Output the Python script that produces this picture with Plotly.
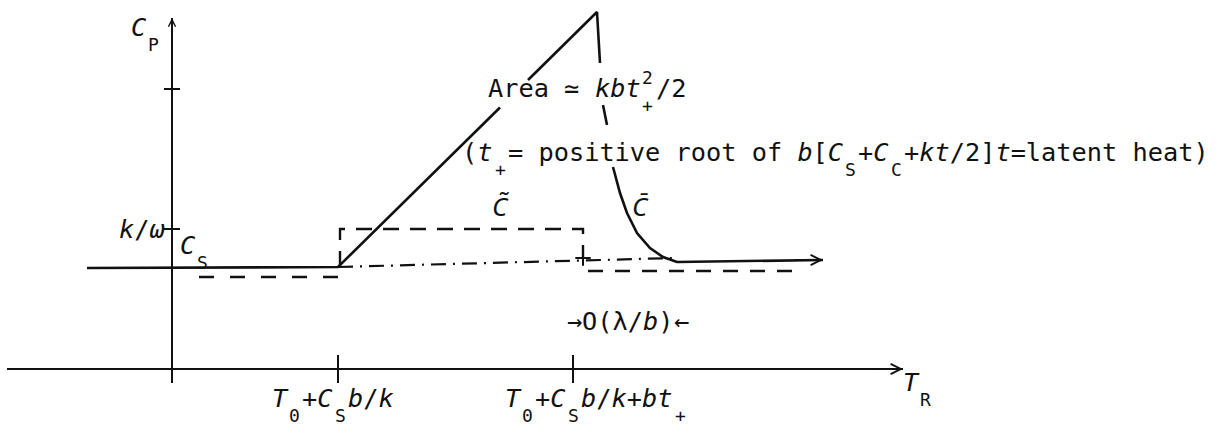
import plotly.graph_objects as go

# ---------------- data (schematic units; origin = crossing of the axes) ----------------
# Apparent heat capacity C_P plotted against reference temperature T_R
T_CURVE = [-0.85, 1.66, 3.28, None, 3.56, 4.25, 4.28, None, 4.31, 4.35, None,
           4.41, 4.48, 4.55, 4.65, 4.78, 4.91, 5.05, 6.51]
C_CURVE = [1.01, 1.02, 2.615, None, 2.89, 3.57, 3.06, None, 2.64, 2.44, None,
           2.02, 1.76, 1.56, 1.36, 1.21, 1.12, 1.07, 1.09]
# C-tilde (dashed box)
T_TILDE = [1.68, 1.68, 4.11, 4.11]
C_TILDE = [1.02, 1.40, 1.40, 1.11]
# dash-dot line
T_DASHDOT = [1.66, 5.03]
C_DASHDOT = [1.02, 1.11]
# lower dashed lines
T_LOW_LEFT = [0.27, 1.66]
C_LOW_LEFT = [0.92, 0.92]
T_LOW_RIGHT = [4.16, 6.21]
C_LOW_RIGHT = [0.98, 0.98]
# axes extents
T_AXIS = [-1.65, 7.31]
C_AXIS = [-0.14, 3.51]
# tick positions
T_TICKS = [1.66, 4.01]
C_TICKS = [1.40, 2.80]
CROSS_T = [4.11]
CROSS_C = [1.11]

# ---------------- text (typewriter segments) ----------------
LBL_ROOT = [("(", "r"), ("t", "i"), ("+", "sub"), ("= positive root of ", "r"),
            ("b", "i"), ("[", "r"), ("C", "i"), ("S", "sub"), ("+", "r"),
            ("C", "i"), ("C", "sub"), ("+", "r"), ("kt", "i"), ("/2]", "r"),
            ("t", "i"), ("=latent heat)", "r")]
LBL_AREA = [("Area ", "r"), ("\u2243", "sym"), (" ", "r"), ("kbt", "i"),
            ("2", "sup0"), ("+", "sub"), ("/2", "r")]
LBL_CP = [("C", "i"), ("P", "sub")]
LBL_KW = [("k", "i"), ("/", "r"), ("\u03c9", "i")]
LBL_CS = [("C", "i"), ("S", "sub")]
LBL_ORDER = [("\u2192", "sym"), ("O(\u03bb/", "r"), ("b", "i"), (")", "r"), ("\u2190", "sym")]
LBL_T1 = [("T", "i"), ("0", "sub"), ("+", "r"), ("C", "i"), ("S", "sub"),
          ("b", "i"), ("/", "r"), ("k", "i")]
LBL_T2 = LBL_T1 + [("+", "r"), ("bt", "i"), ("+", "sub")]
LBL_TR = [("T", "i"), ("R", "sub")]
LBL_CTILDE = "C\u0303"
LBL_CBAR = "C\u0304"

# ---------------- styling ----------------
W, H = 1218, 425
X_RANGE = [-1.72, 10.46]
Y_RANGE = [-0.56, 3.69]
PX_PER_UNIT = W / (X_RANGE[1] - X_RANGE[0])
INK = "#111111"
FONT = "DejaVu Sans Mono, Liberation Mono, monospace"
ACCENT_FONT = "Noto Sans, DejaVu Sans, sans-serif"
FS = 25.3
SUB_FS = 18
PITCH = 0.60205 * FS
SUB_SHIFT = 17
SUP_SHIFT = 11
NBSP = "\u00a0"

fig = go.Figure()


def line(x, y, width=2.5, dash="solid"):
    fig.add_trace(go.Scatter(x=x, y=y, mode="lines", connectgaps=False,
                             line=dict(color=INK, width=width, dash=dash),
                             hoverinfo="skip", showlegend=False))


# axes
line(T_AXIS, [0, 0], width=2)
line([0, 0], C_AXIS, width=2)
for t in T_TICKS:
    line([t, t], [-0.14, 0.14], width=2)
for c in C_TICKS:
    line([-0.08, 0.08], [c, c], width=2)

# curves
line(T_CURVE, C_CURVE, width=2.6)
line(T_TILDE, C_TILDE, width=2.4, dash="16px,11px")
line(T_DASHDOT, C_DASHDOT, width=2.2, dash="15px,7px,2px,7px")
line(T_LOW_LEFT, C_LOW_LEFT, width=2.4, dash="15px,16px")
line(T_LOW_RIGHT, C_LOW_RIGHT, width=2.4, dash="15px,12px")
fig.add_trace(go.Scatter(x=CROSS_T, y=CROSS_C, mode="markers",
                         marker=dict(symbol="cross-thin", size=11,
                                     line=dict(width=2, color=INK)),
                         hoverinfo="skip", showlegend=False))


def arrow(x, y, ax, ay, size=1.0):
    fig.add_annotation(x=x, y=y, ax=ax, ay=ay, xref="x", yref="y",
                       axref="x", ayref="y", text="", showarrow=True,
                       arrowhead=5, arrowsize=size, arrowwidth=2,
                       arrowcolor=INK, standoff=0)


arrow(T_AXIS[1], 0, T_AXIS[1] - 0.3, 0)
arrow(0, C_AXIS[1], 0, C_AXIS[1] - 0.3, size=0.7)
arrow(T_CURVE[-1], C_CURVE[-1], T_CURVE[-1] - 0.3, C_CURVE[-1])


def note(x, y, text, size=FS, xanchor="left", yshift=0, family=FONT):
    fig.add_annotation(x=x, y=y, xref="x", yref="y", text=text,
                       showarrow=False, xanchor=xanchor, yanchor="middle",
                       yshift=yshift, borderpad=0, borderwidth=0,
                       font=dict(family=family, size=size, color=INK))


def col_x(x_left, col):
    return x_left + col * PITCH / PX_PER_UNIT


def typeset(segs, x_left, y_mid):
    """Typewriter-style label: each character occupies one column of width PITCH."""
    cells = []      # (col, char, italic) for the baseline row
    extras = []     # (text, col, yshift, size) for sub/sup/symbol cells
    col = 0
    for txt, kind in segs:
        if kind in ("r", "i"):
            for ch in txt:
                cells.append((col, ch, kind == "i"))
                col += 1
        elif kind == "sym":
            extras.append((txt, col, 0, FS))
            cells.append((col, None, False))
            col += 1
        elif kind == "sub":
            extras.append((txt, col, -SUB_SHIFT, SUB_FS))
            cells.append((col, None, False))
            col += 1
        elif kind == "sup0":
            extras.append((txt, col, SUP_SHIFT, SUB_FS))

    # split the baseline row into runs separated by sub/sym cells
    runs, cur = [], []
    for cell in cells:
        if cell[1] is None:
            if cur:
                runs.append(cur)
            cur = []
        else:
            cur.append(cell)
    if cur:
        runs.append(cur)

    for run in runs:
        while run and run[0][1] == " ":
            run = run[1:]
        while run and run[-1][1] == " ":
            run = run[:-1]
        if not run:
            continue
        parts, buf, ital = [], "", run[0][2]
        for _, ch, it in run:
            if it != ital:
                parts.append(f"<i>{buf}</i>" if ital else buf)
                buf, ital = "", it
            buf += NBSP if ch == " " else ch
        parts.append(f"<i>{buf}</i>" if ital else buf)
        note(col_x(x_left, run[0][0]), y_mid, "".join(parts))

    for txt, c, shift, size in extras:
        note(col_x(x_left, c + 0.5), y_mid, txt, size=size,
             xanchor="center", yshift=shift)


typeset(LBL_ROOT, 2.90, 2.17)
typeset(LBL_AREA, 3.16, 2.81)
typeset(LBL_CP, -0.41, 3.42)
typeset(LBL_KW, -0.53, 1.40)
typeset(LBL_CS, 0.08, 1.24)
typeset(LBL_ORDER, 3.95, 0.48)
typeset(LBL_T1, 1.00, -0.29)
typeset(LBL_T2, 3.33, -0.29)
typeset(LBL_TR, 7.31, -0.13)
note(3.28, 1.63, f"<i>{LBL_CTILDE}</i>", xanchor="center", family=ACCENT_FONT, size=26)
note(4.68, 1.63, f"<i>{LBL_CBAR}</i>", xanchor="center", family=ACCENT_FONT, size=26)

fig.update_layout(
    width=W, height=H, margin=dict(l=0, r=0, t=0, b=0),
    paper_bgcolor="white", plot_bgcolor="white",
    showlegend=False, hovermode=False,
    xaxis=dict(range=X_RANGE, visible=False, fixedrange=True),
    yaxis=dict(range=Y_RANGE, visible=False, fixedrange=True),
)

fig.write_html("out.html", include_plotlyjs=True,
               config={"displayModeBar": False, "staticPlot": True},
               post_script="document.body.style.margin='0';document.body.style.overflow='hidden';")
